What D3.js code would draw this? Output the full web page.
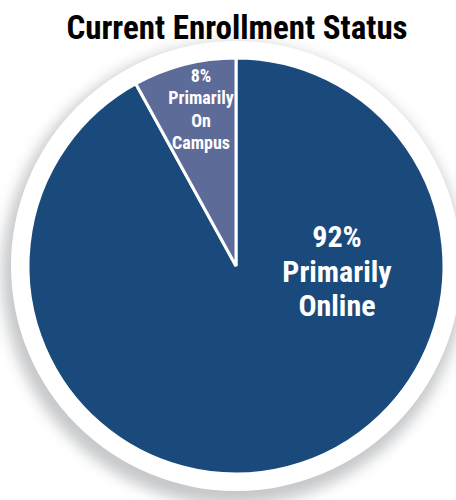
<!DOCTYPE html>
<html><head><meta charset="utf-8">
<script src="https://cdn.jsdelivr.net/npm/d3@7"></script>
<style>
html,body{margin:0;padding:0;background:#fff;}
svg{display:block;}
</style></head>
<body>
<script>
const title = "Current Enrollment Status";
const categories = ["Primarily Online", "Primarily On Campus"];
const values = [92, 8];
const labelLines = [["92%", "Primarily", "Online"], ["8%", "Primarily", "On", "Campus"]];
const colors = ["#1a4a7b", "#5d6b98"];

const W = 456, H = 500;
const cx = 236, cy = 266, R = 208;
const svg = d3.select("body").append("svg").attr("width", W).attr("height", H);
const defs = svg.append("defs");
const f = defs.append("filter").attr("id", "blur").attr("x", "-20%").attr("y", "-20%").attr("width", "140%").attr("height", "140%");
f.append("feGaussianBlur").attr("stdDeviation", 7);

svg.append("circle").attr("cx", cx - 3).attr("cy", cy + 8).attr("r", 231)
  .attr("fill", "#c6c8ca").attr("filter", "url(#blur)");
svg.append("circle").attr("cx", cx).attr("cy", cy).attr("r", 225).attr("fill", "#fff");

const data = categories.map((c, i) => ({cat: c, value: values[i], lines: labelLines[i], color: colors[i]}));
const pie = d3.pie().value(d => d.value).sort(null).startAngle(0).endAngle(2 * Math.PI);
const arcs = pie(data);
const arc = d3.arc().innerRadius(0).outerRadius(R);

const g = svg.append("g").attr("transform", `translate(${cx},${cy})`);
g.selectAll("path").data(arcs).join("path")
  .attr("d", arc).attr("fill", d => d.data.color)
  .attr("stroke", "#fff").attr("stroke-width", 3).attr("stroke-linejoin", "miter");

const font = "'Liberation Sans Narrow','Arial Narrow','Roboto Condensed',sans-serif";
const big = g.append("text").attr("fill", "#fff").attr("font-family", font)
  .attr("font-weight", "bold").attr("font-size", 30).attr("text-anchor", "middle");
labelLines[0].forEach((t, i) => {
  big.append("tspan").attr("x", 101).attr("y", -19 + i * 34.5).text(t);
});
const small = g.append("text").attr("fill", "#fff").attr("font-family", font)
  .attr("font-weight", "bold").attr("font-size", 18).attr("text-anchor", "middle");
labelLines[1].forEach((t, i) => {
  small.append("tspan").attr("x", -35).attr("y", -184 + i * 22.3).text(t);
});

svg.append("text").attr("x", 237).attr("y", 39).attr("text-anchor", "middle")
  .attr("font-family", font).attr("font-weight", "bold").attr("font-size", 33)
  .attr("fill", "#000").text(title);
</script>
</body></html>
